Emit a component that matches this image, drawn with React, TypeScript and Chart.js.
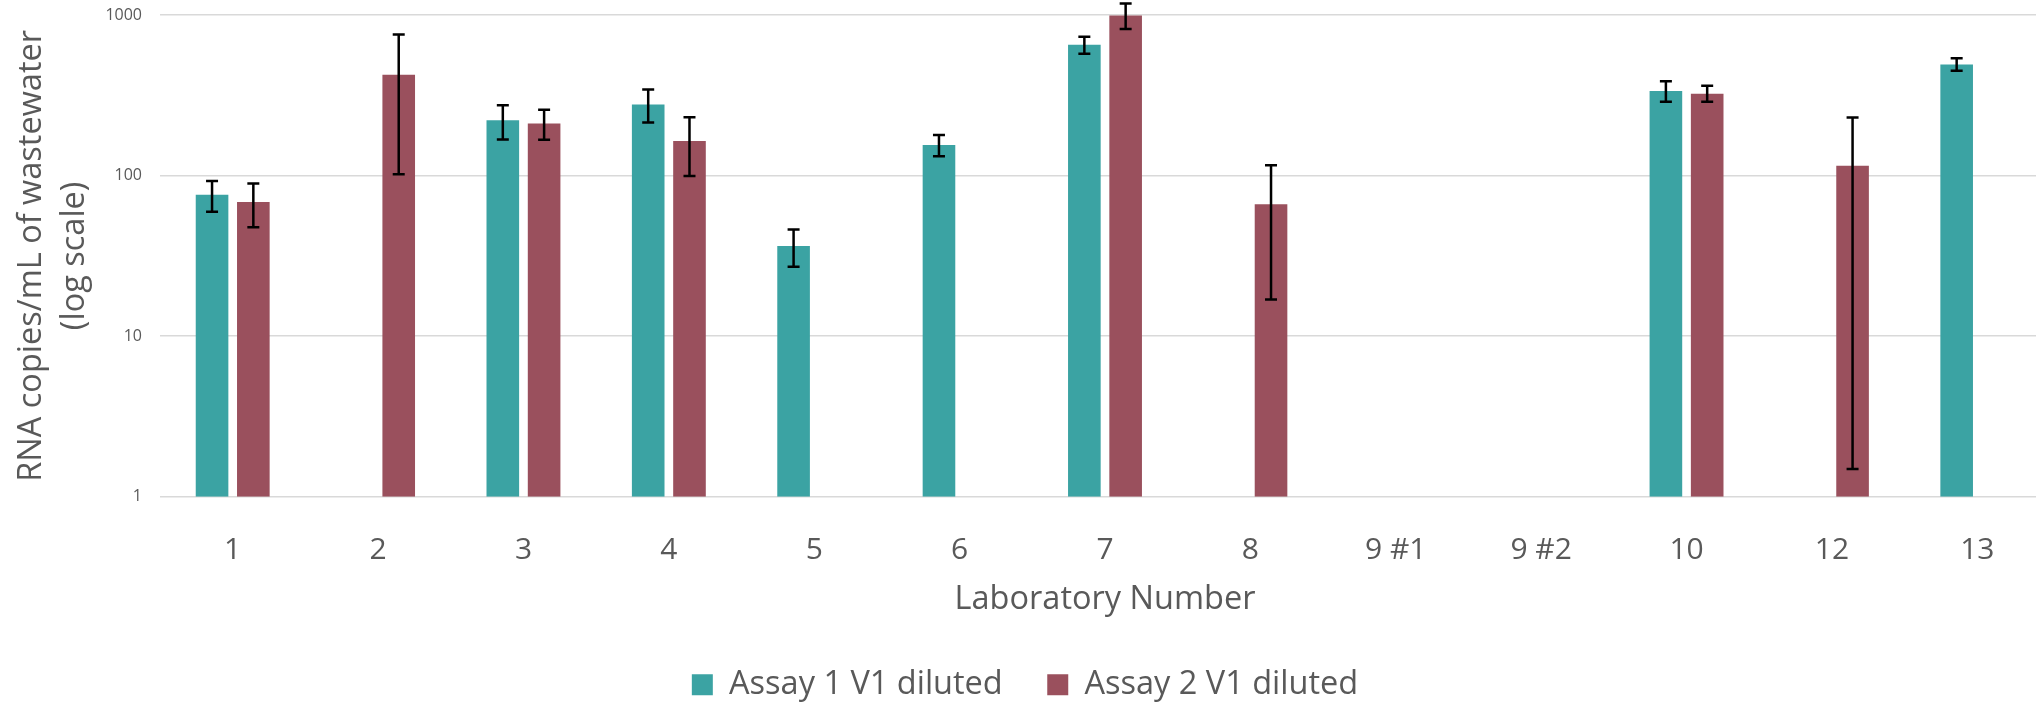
import React, { useEffect, useRef } from "react";
import { Chart, registerables } from "chart.js";

Chart.register(...registerables);

const labels = ["1", "2", "3", "4", "5", "6", "7", "8", "9 #1", "9 #2", "10", "12", "13"];

const assay1 = [75.9, null, 221, 277, 36.4, 155, 652, null, null, null, 336, null, 492];
const assay1Low = [59.5, null, 168, 214, 27.0, 132, 573, null, null, null, 288, null, 449];
const assay1High = [92.4, null, 274, 344, 46.2, 179, 731, null, null, null, 387, null, 537];

const assay2 = [68.4, 424, 211, 164, null, null, 993, 66.2, null, null, 323, 115, null];
const assay2Low = [47.6, 102, 167, 99.3, null, null, 817, 16.9, null, null, 288, 1.49, null];
const assay2High = [89.4, 757, 257, 231, null, null, 1180, 116, null, null, 362, 230, null];

const yTicks = [1, 10, 100, 1000];

const seriesNames = ["Assay 1 V1 diluted", "Assay 2 V1 diluted"];
const TEAL = "#3BA3A3";
const MAROON = "#9A505D";
const TEXT = "#595959";
const GRID = "#D9D9D9";

const CANVAS_W = 2064;
const CANVAS_H = 711;
const PLOT_LEFT = 160;
const PLOT_BOTTOM = 496.7;

const errorBarPlugin = {
  id: "errorBars",
  afterDatasetsDraw(chart: any) {
    const ctx = chart.ctx;
    const yScale = chart.scales.y;
    chart.data.datasets.forEach((ds: any, di: number) => {
      const meta = chart.getDatasetMeta(di);
      if (meta.hidden) return;
      meta.data.forEach((el: any, i: number) => {
        const lo = ds.errLow ? ds.errLow[i] : null;
        const hi = ds.errHigh ? ds.errHigh[i] : null;
        if (lo == null || hi == null) return;
        const x = el.x;
        const yLo = yScale.getPixelForValue(lo);
        const yHi = yScale.getPixelForValue(hi);
        const cap = 6;
        ctx.save();
        ctx.strokeStyle = "#000000";
        ctx.lineWidth = 2.5;
        ctx.beginPath();
        ctx.moveTo(x, yLo);
        ctx.lineTo(x, yHi);
        ctx.moveTo(x - cap, yHi);
        ctx.lineTo(x + cap, yHi);
        ctx.moveTo(x - cap, yLo);
        ctx.lineTo(x + cap, yLo);
        ctx.stroke();
        ctx.restore();
      });
    });
  },
};

export default function App() {
  const canvasRef = useRef<HTMLCanvasElement | null>(null);

  useEffect(() => {
    if (!canvasRef.current) return;
    Chart.defaults.font.family = "'Open Sans', 'Noto Sans', sans-serif";
    const chart = new Chart(canvasRef.current, {
      type: "bar",
      data: {
        labels,
        datasets: [
          {
            label: seriesNames[0],
            data: assay1,
            backgroundColor: TEAL,
            borderWidth: 0,
            categoryPercentage: 0.568,
            barPercentage: 0.79,
            errLow: assay1Low,
            errHigh: assay1High,
          } as any,
          {
            label: seriesNames[1],
            data: assay2,
            backgroundColor: MAROON,
            borderWidth: 0,
            categoryPercentage: 0.568,
            barPercentage: 0.79,
            errLow: assay2Low,
            errHigh: assay2High,
          } as any,
        ],
      },
      options: {
        responsive: false,
        animation: false,
        events: [],
        layout: { padding: { top: 15, right: 14, bottom: 0, left: 0 } },
        plugins: {
          tooltip: { enabled: false },
          legend: {
            display: true,
            position: "bottom",
            align: "center",
            labels: {
              boxWidth: 21,
              boxHeight: 21,
              padding: 44.5,
              color: TEXT,
              font: { size: 32.5 },
            },
          },
        },
        scales: {
          x: {
            type: "category",
            offset: true,
            grid: { display: false, drawTicks: false },
            border: { display: false },
            ticks: {
              color: TEXT,
              font: { size: 30 },
              padding: 35.5,
              maxRotation: 0,
              autoSkip: false,
            },
            title: {
              display: true,
              text: "Laboratory Number",
              color: TEXT,
              font: { size: 32.5, lineHeight: 1.2 },
              padding: { top: 0, bottom: 4.5 },
            },
            afterFit: (scale: any) => {
              const legendH = scale.chart.legend ? scale.chart.legend.height : 0;
              scale.height = CANVAS_H - legendH - PLOT_BOTTOM;
              scale.paddingLeft = 0;
              scale.paddingRight = 0;
            },
          },
          y: {
            type: "logarithmic",
            min: 1,
            max: 1000,
            grid: { color: GRID, lineWidth: 1.5, drawTicks: false },
            border: { display: false },
            ticks: {
              color: TEXT,
              font: { size: 16 },
              padding: 18,
              callback: (v: any) => String(v),
            },
            afterBuildTicks: (scale: any) => {
              scale.ticks = yTicks.map((v) => ({ value: v }));
            },
            title: {
              display: true,
              text: ["RNA copies/mL of wastewater", "(log scale)"],
              color: TEXT,
              font: { size: 32.5, lineHeight: 1.3 },
              padding: { top: 11, bottom: 0 },
            },
            afterFit: (scale: any) => {
              scale.width = PLOT_LEFT;
              scale.paddingTop = 0;
              scale.paddingBottom = 0;
            },
          },
        },
      },
      plugins: [errorBarPlugin],
    } as any);
    return () => chart.destroy();
  }, []);

  return (
    <div
      style={{
        position: "fixed",
        left: 0,
        top: 0,
        width: 2036,
        height: 702,
        overflow: "hidden",
        background: "#ffffff",
      }}
    >
      <canvas
        ref={canvasRef}
        width={CANVAS_W}
        height={CANVAS_H}
        style={{ width: CANVAS_W, height: CANVAS_H, display: "block" }}
      />
    </div>
  );
}
